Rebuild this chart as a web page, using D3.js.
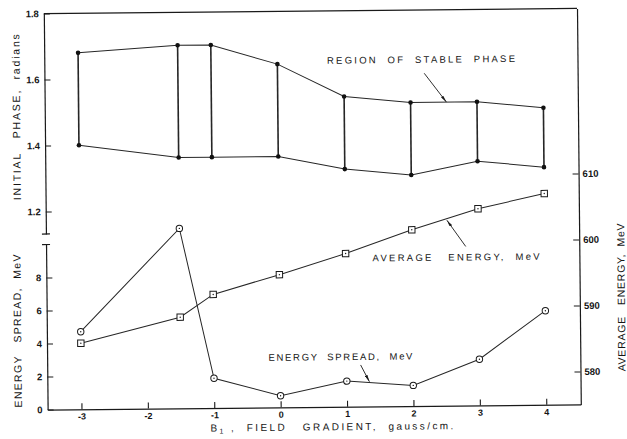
<!DOCTYPE html>
<html>
<head>
<meta charset="utf-8">
<script src="https://cdn.jsdelivr.net/npm/d3@7"></script>
<style>
  html, body { margin: 0; padding: 0; background: #fff; }
  svg { display: block; }
  text { font-family: "Liberation Sans", Arial, sans-serif; fill: #151515; white-space: pre; }
</style>
</head>
<body>
<svg id="chart" width="627" height="439"></svg>
<script>
// Field gradient settings B1 (gauss/cm)
const gradient = [-3, -1.5, -1, 0, 1, 2, 3, 4];
// Upper and lower boundary of the stable-phase region (radians)
const phaseUpper = [1.68, 1.70, 1.70, 1.64, 1.54, 1.52, 1.52, 1.50];
const phaseLower = [1.40, 1.36, 1.36, 1.36, 1.32, 1.30, 1.34, 1.32];
// Energy spread (MeV), lower left axis
const energySpread = [4.7, 10.9, 1.8, 0.7, 1.55, 1.25, 2.8, 5.7];
// Average energy (MeV), right axis
const averageEnergy = [585.0, 588.8, 592.2, 595.1, 598.2, 601.7, 604.8, 607.0];

// Tick values
const xTicks = [-3, -2, -1, 0, 1, 2, 3, 4];
const phaseTicks = [1.2, 1.4, 1.6, 1.8];
const spreadTicks = [0, 2, 4, 6, 8];
const energyTicks = [580, 590, 600, 610];

const ink = "#1a1a1a";

const svg = d3.select("#chart");
const defs = svg.append("defs");
defs.append("marker")
  .attr("id", "head")
  .attr("viewBox", "0 0 10 4")
  .attr("refX", 10).attr("refY", 2)
  .attr("markerWidth", 7).attr("markerHeight", 2.8)
  .attr("markerUnits", "userSpaceOnUse")
  .attr("orient", "auto")
  .append("path").attr("d", "M0,0 L10,2 L0,4 Z").attr("fill", ink);

// whole sheet sits very slightly turned
const g = svg.append("g").attr("transform", "rotate(-0.55,312,208)");

// Scales
const x = d3.scaleLinear().domain([-3.51, 4.52]).range([45.7, 578.9]);
const yPhase = d3.scaleLinear().domain([0.6, 1.8]).range([407, 11]);
const ySpread = d3.scaleLinear().domain([0, 10]).range([407, 242]);
const yEnergy = d3.scaleLinear().domain([575, 635]).range([407, 11]);

const plotLeft = x.range()[0], plotRight = x.range()[1];
const plotBottom = yPhase.range()[0], plotTop = yPhase.range()[1];

function styleAxis(sel, size) {
  sel.attr("font-size", null).attr("font-family", null);
  sel.selectAll("path.domain").attr("stroke", ink).attr("stroke-width", 1.2);
  sel.selectAll(".tick line").attr("stroke", ink).attr("stroke-width", 1.1);
  sel.selectAll(".tick text").attr("fill", ink)
    .style("font-size", (size || 9.5) + "px").style("font-weight", "bold");
}

// Top frame line
g.append("line")
  .attr("x1", plotLeft).attr("x2", plotRight)
  .attr("y1", plotTop).attr("y2", plotTop)
  .attr("stroke", ink).attr("stroke-width", 1.2);

// X axis
g.append("g")
  .attr("transform", `translate(0,${plotBottom})`)
  .call(d3.axisBottom(x).tickValues(xTicks).tickSize(-6).tickSizeOuter(0)
    .tickPadding(4).tickFormat(d => String(d)))
  .call(styleAxis, 9);

// Upper left axis: initial phase, broken below 1.2
const phaseBreak = 1.132;
const phaseAxisScale = yPhase.copy().domain([phaseBreak, 1.8]).range([yPhase(phaseBreak), yPhase(1.8)]);
g.append("g")
  .attr("transform", `translate(${plotLeft},0)`)
  .call(d3.axisLeft(phaseAxisScale).tickValues(phaseTicks).tickSize(-6).tickSizeOuter(0)
    .tickPadding(5).tickFormat(d3.format(".1f")))
  .call(styleAxis);

// Lower left axis: energy spread
g.append("g")
  .attr("transform", `translate(${plotLeft},0)`)
  .call(d3.axisLeft(ySpread).tickValues(spreadTicks).tickSize(-6).tickSizeOuter(0)
    .tickPadding(5).tickFormat(d => String(d)))
  .call(styleAxis);

// Break caps on the left axis
[yPhase(phaseBreak), ySpread(10)].forEach(yy => {
  g.append("line")
    .attr("x1", plotLeft - 4).attr("x2", plotLeft + 4)
    .attr("y1", yy).attr("y2", yy)
    .attr("stroke", ink).attr("stroke-width", 1.2);
});

// Right axis: average energy
g.append("g")
  .attr("transform", `translate(${plotRight},0)`)
  .call(d3.axisRight(yEnergy).tickValues(energyTicks).tickSize(-6).tickSizeOuter(0)
    .tickPadding(4).tickFormat(d => String(d)))
  .call(styleAxis);

// ---- Stable phase region ----
const idx = d3.range(gradient.length);
const lineStroke = "#262626";

idx.forEach(i => {
  g.append("line")
    .attr("x1", x(gradient[i])).attr("x2", x(gradient[i]))
    .attr("y1", yPhase(phaseUpper[i])).attr("y2", yPhase(phaseLower[i]))
    .attr("stroke", lineStroke).attr("stroke-width", 1.6);
});

[phaseUpper, phaseLower].forEach(series => {
  g.append("path")
    .attr("d", d3.line().x(i => x(gradient[i])).y(i => yPhase(series[i]))(idx))
    .attr("fill", "none").attr("stroke", lineStroke).attr("stroke-width", 1);
  g.selectAll(null).data(idx).join("circle")
    .attr("cx", i => x(gradient[i])).attr("cy", i => yPhase(series[i]))
    .attr("r", 2.3).attr("fill", "#111");
});

// ---- Energy spread (circles) ----
g.append("path")
  .attr("d", d3.line().x(i => x(gradient[i])).y(i => ySpread(energySpread[i]))(idx))
  .attr("fill", "none").attr("stroke", lineStroke).attr("stroke-width", 1);
g.selectAll(null).data(idx).join("circle")
  .attr("cx", i => x(gradient[i])).attr("cy", i => ySpread(energySpread[i]))
  .attr("r", 3.2).attr("fill", "#fff").attr("stroke", ink).attr("stroke-width", 1);
g.selectAll(null).data(idx).join("circle")
  .attr("cx", i => x(gradient[i])).attr("cy", i => ySpread(energySpread[i]))
  .attr("r", 0.7).attr("fill", ink);

// ---- Average energy (squares) ----
const sq = 6.4;
g.append("path")
  .attr("d", d3.line().x(i => x(gradient[i])).y(i => yEnergy(averageEnergy[i]))(idx))
  .attr("fill", "none").attr("stroke", lineStroke).attr("stroke-width", 1);
g.selectAll(null).data(idx).join("rect")
  .attr("x", i => x(gradient[i]) - sq / 2).attr("y", i => yEnergy(averageEnergy[i]) - sq / 2)
  .attr("width", sq).attr("height", sq)
  .attr("fill", "#fff").attr("stroke", ink).attr("stroke-width", 1);
g.selectAll(null).data(idx).join("circle")
  .attr("cx", i => x(gradient[i])).attr("cy", i => yEnergy(averageEnergy[i]))
  .attr("r", 0.7).attr("fill", ink);

// Spread text out to a given overall length
function fit(sel, target) {
  sel.each(function () {
    const n = this.getNumberOfChars();
    const natural = this.getComputedTextLength();
    if (n > 1) d3.select(this).style("letter-spacing", ((target - natural) / (n - 1)) + "px");
  });
}

// ---- Curve labels with arrows ----
const notes = [
  { text: "REGION  OF  STABLE  PHASE", at: [x(2.18), yPhase(1.65)], len: 188,
    from: [x(2.21), yPhase(1.608)], to: [x(2.54), yPhase(1.52)] },
  { text: "AVERAGE   ENERGY,  MeV", at: [x(2.68), yEnergy(597.5)], len: 167,
    from: [x(2.81), yEnergy(599.1)], to: [x(2.53), yEnergy(603.1)] },
  { text: "ENERGY  SPREAD,  MeV", at: [x(0.92), ySpread(3.03)], len: 144,
    from: [x(1.21), ySpread(2.52)], to: [x(1.34), ySpread(1.5)] }
];
notes.forEach(n => {
  g.append("text")
    .attr("x", n.at[0]).attr("y", n.at[1]).attr("dy", "0.36em")
    .attr("text-anchor", "middle")
    .style("font-size", "9.5px")
    .text(n.text)
    .call(fit, n.len);
  g.append("line")
    .attr("x1", n.from[0]).attr("y1", n.from[1])
    .attr("x2", n.to[0]).attr("y2", n.to[1])
    .attr("stroke", ink).attr("stroke-width", 0.9)
    .attr("marker-end", "url(#head)");
});

// ---- Axis titles ----
function vtitle(txt, cx, cy, len) {
  g.append("text")
    .attr("transform", `translate(${cx},${cy}) rotate(-90)`)
    .attr("text-anchor", "middle")
    .style("font-size", "10.5px")
    .text(txt)
    .call(fit, len);
}
vtitle("INITIAL   PHASE,  radians", 21.0, 113.5, 166);
vtitle("ENERGY   SPREAD,  MeV", 20.0, 327.5, 153);
vtitle("AVERAGE   ENERGY,  MeV", 624.0, 300, 148);

const xt = g.append("text")
  .attr("x", 331).attr("y", 430.5)
  .attr("text-anchor", "middle")
  .style("font-size", "10px");
xt.append("tspan").text("B");
xt.append("tspan").attr("dy", 2).style("font-size", "7px").text("1");
xt.append("tspan").attr("dy", -2).text(" ,  FIELD   GRADIENT,  gauss/cm.");
xt.call(fit, 243);
</script>
</body>
</html>
